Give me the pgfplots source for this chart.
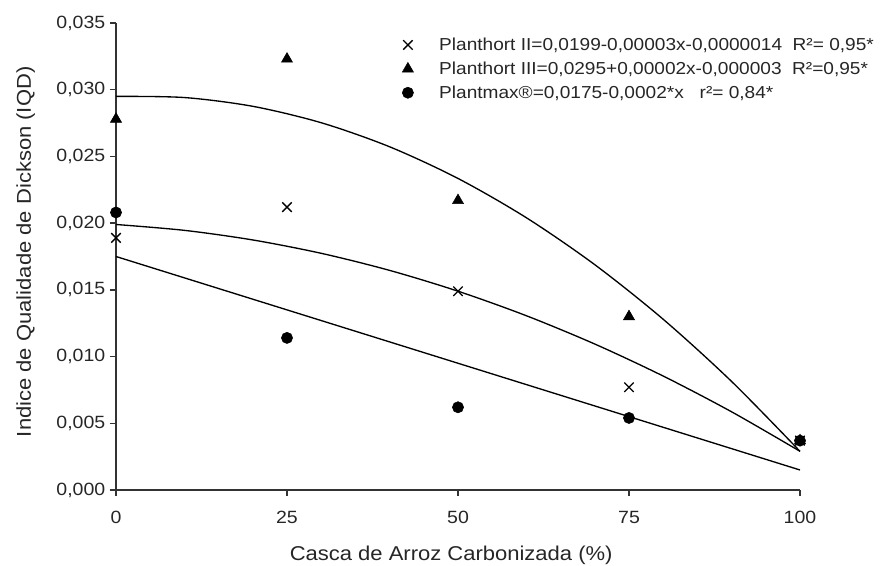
\documentclass[border=0pt]{standalone}
\usepackage{fontspec}
\setmainfont{Liberation Sans}[FakeStretch=1.1]
\usepackage{pgfplots}
\pgfplotsset{compat=1.18}
\begin{document}
\begin{tikzpicture}
\path[use as bounding box] (-87pt,-56.25pt) rectangle (573pt,367.5pt);
\begin{axis}[
  at={(0,0)}, anchor=south west,
  scale only axis, width=513pt, height=350.25pt,
  xmin=0, xmax=100, ymin=0, ymax=0.035,
  axis lines=left,
  axis line style={-, line width=1.3pt, color=black!80},
  tick align=outside, major tick length=4.5pt,
  tick style={line width=1.1pt, color=black!80},
  xtick={0,25,50,75,100},
  xticklabels={0,25,50,75,100},
  ytick={0,0.005,0.01,0.015,0.02,0.025,0.03,0.035},
  yticklabels={{0,000},{0,005},{0,010},{0,015},{0,020},{0,025},{0,030},{0,035}},
  scaled y ticks=false,
  tick label style={font=\fontsize{13.3}{15}\selectfont, color=black!85},
  xticklabel style={yshift=-8pt},
  xlabel={Casca de Arroz Carbonizada (\%)},
  ylabel={Indice de Qualidade de Dickson (IQD)},
  label style={font=\fontsize{15}{18}\selectfont, color=black!85},
  xlabel style={at={(axis description cs:0.49,0)}, anchor=base, yshift=-53pt},
  ylabel style={at={([xshift=-63.75pt]axis description cs:0,0.51)}, anchor=base},
  clip=false,
  legend style={draw=none, fill=none, at={(axis description cs:0.4137,0.972)}, anchor=north west,
    inner sep=0pt, row sep=5pt, nodes={inner sep=1pt, font=\fontsize{13}{15}\selectfont, color=black!85}},
  legend cell align=left,
]
% fitted curves
\addplot[black, line width=1pt, smooth, forget plot] coordinates {
 (0,0.0199)(10,0.01946)(20,0.01874)(30,0.01774)(40,0.01646)(50,0.0149)
 (60,0.01306)(70,0.01094)(80,0.00854)(90,0.00586)(100,0.0029)};
\addplot[black, line width=1pt, smooth, forget plot] coordinates {
 (0,0.0295)(10,0.029414)(20,0.028756)(30,0.027526)(40,0.025724)(50,0.02335)
 (60,0.020404)(70,0.016886)(80,0.012796)(90,0.008134)(100,0.0029)};
\addplot[black, line width=1pt, forget plot] coordinates {(0,0.0175)(100,0.0015)};
% observed points
\addplot[only marks, mark=x, mark size=5pt, line width=1pt, black,
  legend image code/.code={\path[draw=none,fill=none] (0pt,-1pt) rectangle (29pt,1pt);
    \draw[only marks] plot coordinates {(6.5pt,0pt)};}]
  coordinates {(0,0.0189)(25,0.0212)(50,0.0149)(75,0.0077)(100,0.0037)};
\addlegendentry{Planthort II=0,0199-0,00003x-0,0000014\ \ R²= 0,95*}
\addplot[only marks, mark=triangle*, mark size=4.8pt, black,
  legend image code/.code={\path[draw=none,fill=none] (0pt,-1pt) rectangle (29pt,1pt);
    \draw[only marks] plot coordinates {(6.5pt,0pt)};}]
  coordinates {(0,0.0278)(25,0.0323)(50,0.0217)(75,0.0130)(100,0.0037)};
\addlegendentry{Planthort III=0,0295+0,00002x-0,000003\ \ R²=0,95*}
\addplot[only marks, mark=*, mark size=4.2pt, black,
  legend image code/.code={\path[draw=none,fill=none] (0pt,-1pt) rectangle (29pt,1pt);
    \draw[only marks] plot coordinates {(6.5pt,0pt)};}]
  coordinates {(0,0.0208)(25,0.0114)(50,0.0062)(75,0.0054)(100,0.0037)};
\addlegendentry{Plantmax®=0,0175-0,0002*x\ \ \ r²= 0,84*}
\end{axis}
\end{tikzpicture}
\end{document}
